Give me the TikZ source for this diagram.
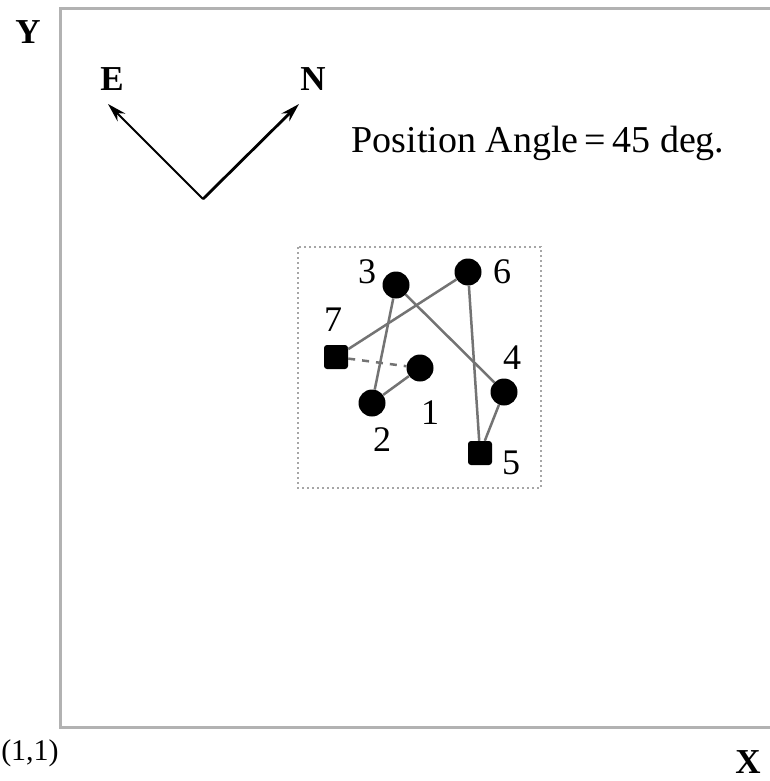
\documentclass[tikz,border=0pt]{standalone}
\usepackage{fontspec}
\setmainfont{Liberation Serif}
\usetikzlibrary{arrows.meta}
\begin{document}
\begin{tikzpicture}[x=1pt,y=-1pt,
  frameline/.style={draw=black!30,line width=3pt},
  dotc/.style={circle,fill=black,draw=none,minimum size=27pt,inner sep=0pt},
  dots/.style={rectangle,rounded corners=3pt,fill=black,draw=none,minimum size=24pt,inner sep=0pt},
  link/.style={draw=black!55,line width=2.5pt},
  lbl/.style={font=\fontsize{36}{38}\selectfont,inner sep=0pt},
  blbl/.style={font=\fontsize{35}{37}\selectfont\bfseries,inner sep=0pt},
  dir/.style={-{Stealth[length=19pt,width=11pt]},black}]
\useasboundingbox (0,0) rectangle (770,781);
\fill[white] (0,0) rectangle (770,781);
% frame
\coordinate (tr) at (775,9);
\coordinate (tl) at (60,9);
\coordinate (bl) at (60,727);
\coordinate (br) at (775,727);
\draw[frameline] (tr) -- (tl) -- (bl) -- (br);
\node[blbl] (Y) at (28,32) {Y};
\node[font=\fontsize{30}{32}\selectfont,inner sep=0pt] (o11) at (30,753) {(1,1)};
\node[blbl] (X) at (748,762) {X};
% compass
\coordinate (org) at (203,199);
\coordinate (etip) at (108,104);
\coordinate (ntip) at (299,104);
\draw[dir,line width=1.8pt] (org) -- (etip);
\draw[dir,line width=2.8pt] (org) -- (ntip);
\node[blbl] (E) at (112,79) {E};
\node[blbl] (N) at (313,79) {N};
\node[font=\fontsize{38}{40}\selectfont,inner sep=0pt] (pa) at (538,143) {Position Angle\,=\,45 deg.};
% dotted box
\draw[black!35,line width=2pt,dash pattern=on 2pt off 3pt] (298,247) rectangle (541,488);
% points
\node[dotc] (p1) at (420,368) {};
\node[dotc] (p2) at (372,403) {};
\node[dotc] (p3) at (396,285) {};
\node[dotc] (p4) at (504,392) {};
\node[dots] (p5) at (480,453) {};
\node[dotc] (p6) at (468,272) {};
\node[dots] (p7) at (336,357) {};
\draw[link] (p1) -- (p2);
\draw[link] (p2) -- (p3);
\draw[link] (p3) -- (p4);
\draw[link] (p4) -- (p5);
\draw[link] (p5) -- (p6);
\draw[link] (p6) -- (p7);
\draw[link,dash pattern=on 7pt off 7pt] (p7) -- (p1);
\node[lbl] (l1) at (430,413) {1};
\node[lbl] (l2) at (382,440) {2};
\node[lbl] (l3) at (367,272) {3};
\node[lbl] (l4) at (512,358) {4};
\node[lbl] (l5) at (511,463) {5};
\node[lbl] (l6) at (502,272) {6};
\node[lbl] (l7) at (333,320) {7};
\end{tikzpicture}
\end{document}
